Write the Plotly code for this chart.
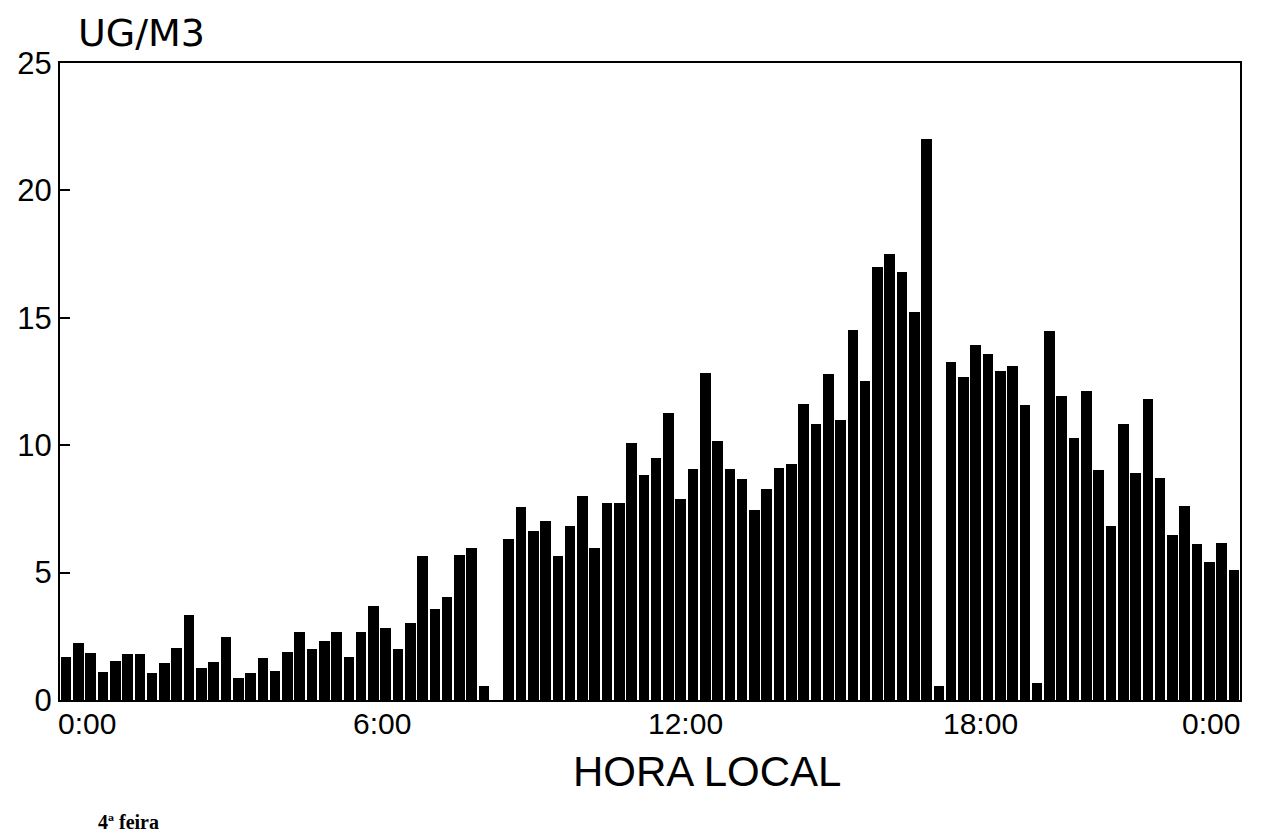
import plotly.graph_objects as go

# 15-minute intervals over one day (hours from 0:00), value in UG/M3
slot_hours = [i * 0.25 for i in range(96)]
values = [
    1.67, 2.22, 1.83, 1.11, 1.54, 1.79, 1.79, 1.05, 1.44, 2.05, 3.33, 1.27, 1.48, 2.46, 0.88, 1.07,
    1.66, 1.15, 1.87, 2.68, 1.99, 2.33, 2.65, 1.70, 2.65, 3.70, 2.84, 1.99, 3.03, 5.66, 3.57, 4.05,
    5.71, 5.95, 0.55, 0.0, 6.33, 7.58, 6.63, 7.03, 5.65, 6.82, 8.00, 5.97, 7.74, 7.75, 10.10, 8.82,
    9.48, 11.27, 7.87, 9.06, 12.84, 10.16, 9.06, 8.69, 7.45, 8.27, 9.11, 9.28, 11.63, 10.85, 12.78, 10.98,
    14.54, 12.52, 16.98, 17.49, 16.78, 15.23, 22.00, 0.55, 13.27, 12.68, 13.92, 13.57, 12.90, 13.10, 11.57, 0.65,
    14.48, 11.93, 10.30, 12.12, 9.02, 6.82, 10.82, 8.92, 11.80, 8.73, 6.47, 7.61, 6.12, 5.41, 6.17, 5.10,
]
y_ticks = [0, 5, 10, 15, 20, 25]
x_tick_hours = [0, 6, 12, 18, 24]
x_tick_labels = ["0:00", "6:00", "12:00", "18:00", "0:00"]

SANS = "Liberation Sans, Arial, sans-serif"

fig = go.Figure()
fig.add_trace(go.Bar(
    x=[h + 0.125 for h in slot_hours],
    y=values,
    width=0.215,
    marker=dict(color="black", line=dict(width=0)),
    showlegend=False,
))

# page body has an 8px margin, so the plot box is shifted by it
fig.update_layout(
    width=1266, height=840,
    margin=dict(l=52, r=34, t=55, b=148, autoexpand=False),
    paper_bgcolor="white", plot_bgcolor="white",
    bargap=0,
)
fig.update_xaxes(
    range=[0, 24], showgrid=False, zeroline=False,
    showline=True, mirror=True, linecolor="black", linewidth=2,
    showticklabels=False, ticks="",
)
fig.update_yaxes(
    range=[0, 25], tickvals=y_ticks, showgrid=False, zeroline=False,
    showline=True, mirror=True, linecolor="black", linewidth=2,
    ticks="inside", ticklen=10, tickwidth=2, tickcolor="black",
    tickfont=dict(family=SANS, size=31, color="black"),
)

for i, (h, lab) in enumerate(zip(x_tick_hours, x_tick_labels)):
    fig.add_annotation(
        x=h, y=0, xref="x", yref="paper", yanchor="top", yshift=-5,
        xanchor="right" if i == len(x_tick_hours) - 1 else "left",
        xshift=2 if i == len(x_tick_hours) - 1 else -4,
        text=lab, showarrow=False,
        font=dict(family=SANS, size=30, color="black"),
    )

fig.add_annotation(
    x=(76 - 60) / 1180, y=1, xref="paper", yref="paper", xanchor="left", yanchor="bottom",
    yshift=6, text="UG/M3", showarrow=False,
    font=dict(family="DejaVu Sans, sans-serif", size=38, color="black"),
)
fig.add_annotation(
    x=(707 - 60) / 1180, y=-(771 - 700) / 637, xref="paper", yref="paper",
    yanchor="middle", text="HORA LOCAL", showarrow=False,
    font=dict(family=SANS, size=42, color="black"),
)
fig.add_annotation(
    x=(96 - 60) / 1180, y=-(822 - 700) / 637, xref="paper", yref="paper",
    xanchor="left", yanchor="middle",
    text="<b>4ª feira</b>", showarrow=False,
    font=dict(family="Liberation Serif, DejaVu Serif, serif", size=20, color="black"),
)

fig.write_html("out.html")
